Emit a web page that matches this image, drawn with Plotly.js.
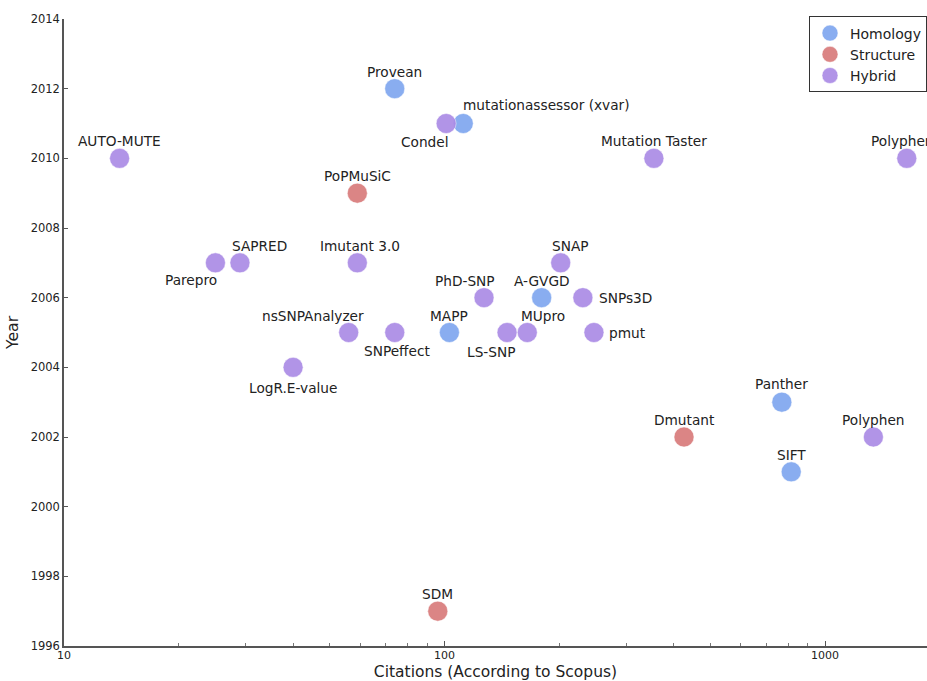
<!DOCTYPE html>
<html>
<head>
<meta charset="utf-8">
<script src="https://cdn.plot.ly/plotly-3.0.1.min.js"></script>
<style>html,body{margin:0;padding:0;background:#fff;}#chart{width:927px;height:681px;}</style>
</head>
<body>
<div id="chart"></div>
<script>
// ---- data ----
const tools = ["AUTO-MUTE","Provean","mutationassessor (xvar)","Condel","Mutation Taster","Polyphen2","PoPMuSiC","Parepro","SAPRED","Imutant 3.0","SNAP","PhD-SNP","A-GVGD","SNPs3D","nsSNPAnalyzer","SNPeffect","MAPP","LS-SNP","MUpro","pmut","LogR.E-value","Panther","Dmutant","Polyphen","SIFT","SDM"];
const citations = [14,74,112,101,355,1640,59,25,29,59,202,127,180,231,56,74,103,146,165,247,40,770,426,1340,815,96];
const years = [2010,2012,2011,2011,2010,2010,2009,2007,2007,2007,2007,2006,2006,2006,2005,2005,2005,2005,2005,2005,2004,2003,2002,2002,2001,1997];
const methods = ["Hybrid","Homology","Homology","Hybrid","Hybrid","Hybrid","Structure","Hybrid","Hybrid","Hybrid","Hybrid","Hybrid","Homology","Hybrid","Hybrid","Hybrid","Homology","Hybrid","Hybrid","Hybrid","Hybrid","Homology","Structure","Hybrid","Homology","Structure"];
const categories = ["Homology","Structure","Hybrid"];
const yTicks = [1996,1998,2000,2002,2004,2006,2008,2010,2012,2014];
const xTicks = [10,100,1000];

// ---- styles ----
const colors = {Homology:"#7fa7ef", Structure:"#d97b7b", Hybrid:"#ab8be6"};
// label placement per tool: [xanchor, dx, dy] in pixels
const labelPos = {
 "AUTO-MUTE":["center",0,17],"Provean":["center",0,17],"mutationassessor (xvar)":["left",-2,19],
 "Condel":["right",5,-18],"Mutation Taster":["center",0,17],"Polyphen2":["center",0,17],
 "PoPMuSiC":["center",0,17],"Parepro":["right",4,-17],"SAPRED":["left",-10,17],
 "Imutant 3.0":["center",3,17],"SNAP":["left",-11,17],"PhD-SNP":["right",13,17],
 "A-GVGD":["center",0,17],"SNPs3D":["left",14,0],"nsSNPAnalyzer":["right",17,17],
 "SNPeffect":["center",2,-18],"MAPP":["center",0,17],"LS-SNP":["right",10,-19],
 "MUpro":["left",-8,17],"pmut":["left",13,0],"LogR.E-value":["center",0,-21],
 "Panther":["center",0,18],"Dmutant":["center",0,17],"Polyphen":["center",0,17],
 "SIFT":["center",0,17],"SDM":["center",0,17]
};

const traces = categories.map(cat => {
  const idx = methods.map((m,i)=>m===cat?i:-1).filter(i=>i>=0);
  return {
    type:"scatter", mode:"markers", name:cat,
    x: idx.map(i=>citations[i]), y: idx.map(i=>years[i]),
    text: idx.map(i=>tools[i]), hoverinfo:"text+x+y",
    marker:{size:20, color:colors[cat], opacity:0.92, line:{width:1, color:"rgba(255,255,255,0.5)"}}
  };
});

const annotations = tools.map((t,i)=>{
  const p = labelPos[t];
  return {x:Math.log10(citations[i]), y:years[i], xref:"x", yref:"y", text:t, showarrow:false,
    xanchor:p[0], yanchor:"middle", xshift:p[1], yshift:p[2],
    font:{family:"DejaVu Sans", size:13.7, color:"#222"}};
});

const minorVals = [];
[10,100,1000].forEach(d=>{for(let k=2;k<=9;k++) minorVals.push(k*d);});

const layout = {
  width:927, height:681,
  margin:{l:64, r:0, t:19, b:35, autoexpand:false},
  paper_bgcolor:"#fff", plot_bgcolor:"#fff",
  font:{family:"DejaVu Sans", color:"#222"},
  showlegend:true,
  legend:{x:1, xanchor:"right", y:1.004, yanchor:"top", bgcolor:"#fff", bordercolor:"#333", borderwidth:1,
    font:{family:"DejaVu Sans", size:14, color:"#222"}, itemsizing:"trace", tracegroupgap:0, itemwidth:30},
  xaxis:{type:"log", range:[1, 3.268], tickvals:xTicks, ticktext:xTicks.map(String),
    ticks:"inside", ticklen:5, tickcolor:"#555", showline:true, linecolor:"#555", linewidth:1.5,
    showgrid:false, zeroline:false, tickfont:{size:11, color:"#222"}, ticklabelstandoff:-2,
    minor:{tickvals:minorVals, ticks:"inside", ticklen:3, tickcolor:"#777", showgrid:false},
    title:{text:"Citations (According to Scopus)", font:{size:15.5, color:"#222"}, standoff:9}},
  yaxis:{range:[1996, 2014], tickvals:yTicks, ticks:"inside", ticklen:4, tickcolor:"#555",
    showline:true, linecolor:"#555", linewidth:1.5, showgrid:false, zeroline:false,
    tickfont:{size:11.5, color:"#222"},
    title:{text:"Year", font:{size:15.7, color:"#222"}, standoff:8}},
  annotations:annotations
};

Plotly.newPlot("chart", traces, layout, {displayModeBar:false, responsive:false});
</script>
</body>
</html>
